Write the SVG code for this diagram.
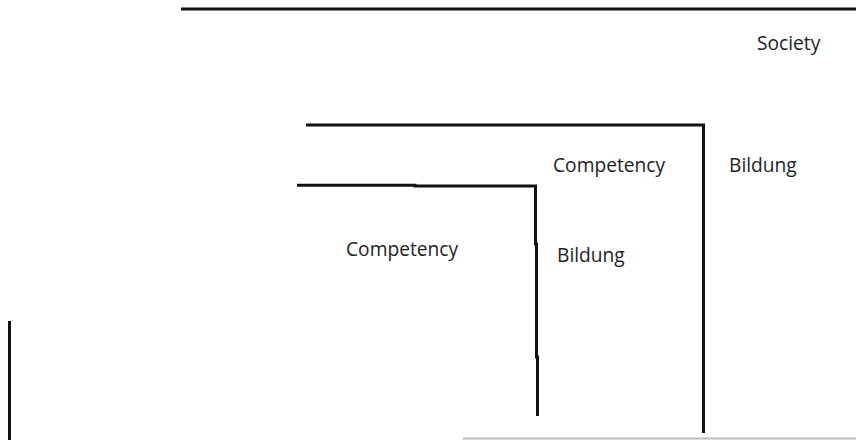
<svg xmlns="http://www.w3.org/2000/svg" width="856" height="440" viewBox="0 0 856 440">
<style>
.ln{fill:none;stroke:#111;stroke-width:3;stroke-linejoin:miter;stroke-linecap:butt}
.lb{font-family:"Open Sans","Noto Sans",sans-serif;font-size:19.2px;fill:#1e1e1e}
</style>
<rect width="856" height="440" fill="#fff"/>
<g id="connectors">
<path class="ln" d="M181 9 H856"/>
<path class="ln" d="M306 125 H703.5 V433"/>
<path class="ln" d="M297 185.3 H415 V186 H535.5 V244 H536.5 V357 H537.5 V416"/>
<path class="ln" d="M9.5 321 V440"/>
<path d="M463 438.5 H856" stroke="#bbb" stroke-width="2" fill="none"/>
</g>
<g id="society"><text class="lb" x="757" y="50">Society</text></g>
<g id="outer-competency"><text class="lb" x="553" y="172">Competency</text></g>
<g id="outer-bildung"><text class="lb" x="729" y="172">Bildung</text></g>
<g id="inner-competency"><text class="lb" x="346" y="256">Competency</text></g>
<g id="inner-bildung"><text class="lb" x="557" y="262">Bildung</text></g>
</svg>
